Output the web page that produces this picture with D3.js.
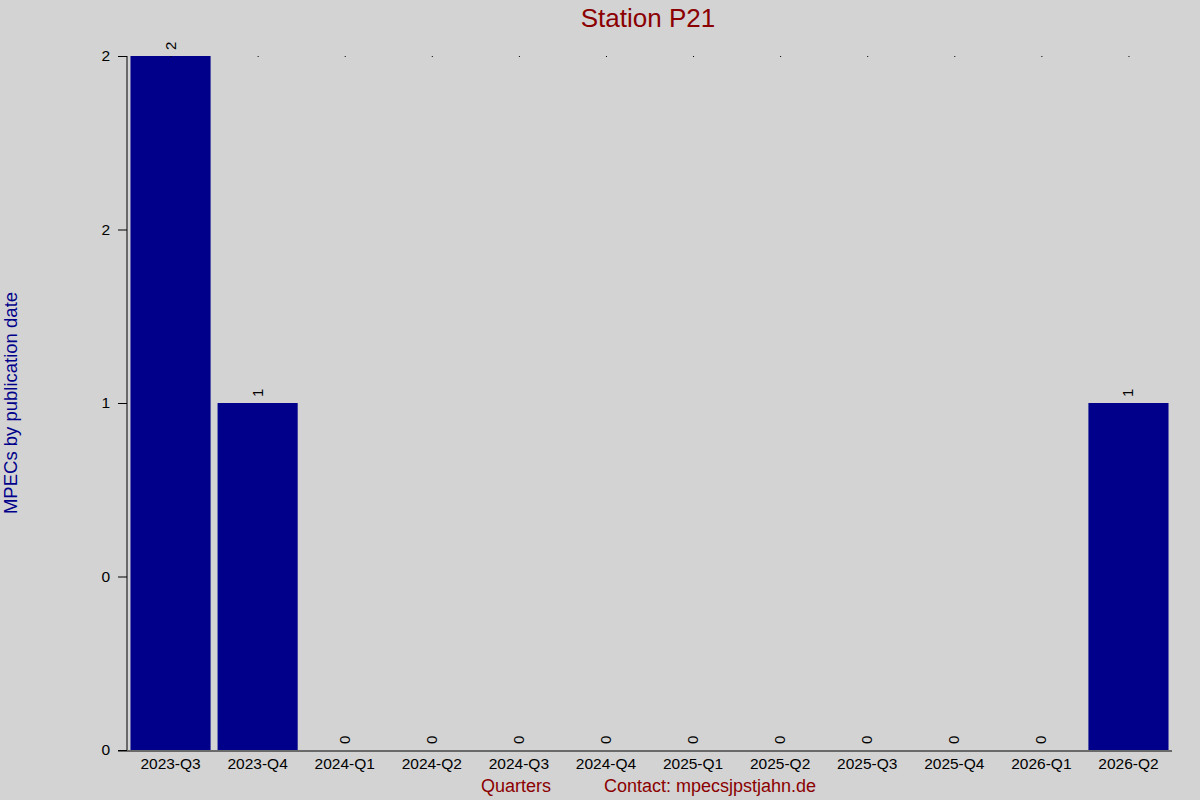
<!DOCTYPE html>
<html lang="en">
  <head>
    <meta charset="utf-8">
    <script src="https://d3js.org/d3.v7.min.js"></script>
    <title>Station P21</title>
    <style>
      body { margin: 0; background: #d3d3d3; }
      text { font-family: "Liberation Sans", Arial, sans-serif; }
    </style>
  </head>
  <body>
    <script>

    var quarters = ["2023-Q3", "2023-Q4", "2024-Q1", "2024-Q2", "2024-Q3", "2024-Q4",
                    "2025-Q1", "2025-Q2", "2025-Q3", "2025-Q4", "2026-Q1", "2026-Q2"];
    var counts = [2, 1, 0, 0, 0, 0, 0, 0, 0, 0, 0, 1];
    var yTicks = [0, 0.5, 1, 1.5, 2];
    var yTickLabels = ["0", "0", "1", "2", "2"];

    var width = 1200, height = 800;
    var margin = {top: 56, left: 127, bottom: 50, right: 28};

    var svg = d3.select("body")
      .append("svg")
        .attr("width", width)
        .attr("height", height)
        .style("display", "block");

    svg.append("rect")
      .attr("width", width)
      .attr("height", height)
      .attr("fill", "#d3d3d3");

    var x = d3.scaleBand()
      .domain(quarters)
      .range([margin.left, width - margin.right])
      .paddingInner(0.08)
      .paddingOuter(0.04);

    var y = d3.scaleLinear()
      .domain([0, 2])
      .range([height - margin.bottom, margin.top]);

    var data = quarters.map(function(q, i) { return {q: q, n: counts[i]}; });

    // bars
    svg.selectAll(".bar")
      .data(data)
      .enter()
      .append("rect")
        .attr("class", "bar")
        .attr("x", function(d) { return x(d.q); })
        .attr("y", function(d) { return y(d.n); })
        .attr("width", x.bandwidth())
        .attr("height", function(d) { return y(0) - y(d.n); })
        .attr("fill", "#00008b");

    // tiny marks along the top
    svg.selectAll(".dot")
      .data(data)
      .enter()
      .append("rect")
        .attr("x", function(d) { return x(d.q) + x.bandwidth() / 2; })
        .attr("y", y(2))
        .attr("width", 1)
        .attr("height", 1)
        .attr("fill", "#000");

    // value labels
    svg.selectAll(".val")
      .data(data)
      .enter()
      .append("text")
        .attr("transform", function(d) {
          return "translate(" + [x(d.q) + x.bandwidth() / 2 + 5, y(d.n) - 6] + ") rotate(-90)";
        })
        .attr("text-anchor", "start")
        .style("font-size", "15px")
        .attr("fill", "#000")
        .text(function(d) { return d.n; });

    // y axis
    var yAxis = svg.append("g")
      .attr("transform", "translate(" + margin.left + ",0)")
      .call(d3.axisLeft(y)
        .tickValues(yTicks)
        .tickSize(9)
        .tickPadding(8)
        .tickFormat(function(d, i) { return yTickLabels[i]; }));
    yAxis.select(".domain").attr("d", "M0," + y(2) + "V" + y(0));
    yAxis.selectAll("text").style("font-size", "15.5px").attr("fill", "#000");
    yAxis.selectAll("line").attr("stroke", "#000");

    // x axis
    var xAxis = svg.append("g")
      .attr("transform", "translate(0," + (y(0) + 1) + ")")
      .call(d3.axisBottom(x).tickSize(0).tickPadding(7));
    xAxis.select(".domain")
      .attr("d", "M" + (margin.left - 9) + ",0H" + (width - margin.right));
    xAxis.selectAll("text").style("font-size", "15.5px").attr("fill", "#000");

    // title
    svg.append("text")
      .attr("x", 648)
      .attr("y", 27)
      .attr("text-anchor", "middle")
      .style("font-size", "26px")
      .attr("fill", "#8b0000")
      .text("Station P21");

    svg.append("text")
      .attr("transform", "translate(17,403) rotate(-90)")
      .attr("text-anchor", "middle")
      .style("font-size", "18.5px")
      .attr("fill", "#00008b")
      .text("MPECs by publication date");

    svg.append("text")
      .attr("x", 516)
      .attr("y", 792)
      .attr("text-anchor", "middle")
      .style("font-size", "18px")
      .attr("fill", "#8b0000")
      .text("Quarters");

    svg.append("text")
      .attr("x", 710)
      .attr("y", 792)
      .attr("text-anchor", "middle")
      .style("font-size", "18px")
      .attr("fill", "#8b0000")
      .text("Contact: mpecsjpstjahn.de");

    </script>
  </body>
</html>
